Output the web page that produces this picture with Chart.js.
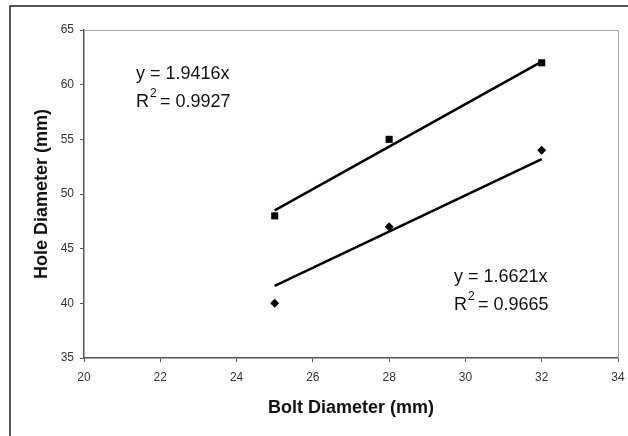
<!DOCTYPE html>
<html>
<head>
<meta charset="utf-8">
<script src="https://cdn.jsdelivr.net/npm/chart.js@4.4.0/dist/chart.umd.min.js"></script>
<style>
  html, body { margin: 0; padding: 0; background: #fff; }
  #wrap { width: 628px; height: 436px; }
</style>
</head>
<body>
<div id="wrap"><canvas id="holeChart" width="628" height="436"></canvas></div>
<script>
// Measured values
const boltDiameter = [25, 28, 32];
const holeUpper = [48, 55, 62];   // squares
const holeLower = [40, 47, 54];   // diamonds

// Trendline end points (as drawn)
const trendX = [25, 32];
const trendUpper = [48.5, 62.1];
const trendLower = [41.6, 53.2];

// Axis ranges
const xRange = [20, 34, 2];
const yRange = [35, 65, 5];

// Equation labels
const upperEq = { eq: 'y = 1.9416x', r2: '0.9927' };
const lowerEq = { eq: 'y = 1.6621x', r2: '0.9665' };

const pts = (xs, ys) => xs.map((x, i) => ({ x: x, y: ys[i] }));

const FONT = '"Liberation Sans", Arial, sans-serif';

// Frame, plot border and regression text
const decorations = {
    id: 'decorations',
    beforeDraw(chart) {
        const c = chart.ctx;
        c.save();
        c.fillStyle = '#fff';
        c.fillRect(0, 0, chart.width, chart.height);
        // outer frame (left + top only visible)
        c.strokeStyle = '#222';
        c.lineWidth = 1.5;
        c.beginPath();
        c.moveTo(10, chart.height);
        c.lineTo(10, 6);
        c.lineTo(chart.width, 6);
        c.stroke();
        c.restore();
    },
    afterDraw(chart) {
        const c = chart.ctx;
        const a = chart.chartArea;
        c.save();
        c.strokeStyle = '#aaa';
        c.lineWidth = 1;
        c.beginPath();
        c.moveTo(a.left, a.top + 0.5);
        c.lineTo(a.right + 0.5, a.top + 0.5);
        c.lineTo(a.right + 0.5, a.bottom);
        c.stroke();

        function eqText(obj, x, y) {
            c.fillStyle = '#111';
            c.textBaseline = 'alphabetic';
            c.textAlign = 'left';
            c.font = '18px ' + FONT;
            c.fillText(obj.eq, x, y);
            const y2 = y + 28;
            c.fillText('R', x, y2);
            const rw = c.measureText('R').width;
            c.font = '12px ' + FONT;
            c.fillText('2', x + rw + 1, y2 - 10);
            c.font = '18px ' + FONT;
            c.fillText(' = ' + obj.r2, x + rw + 6, y2);
        }
        eqText(upperEq, 136, 79);
        eqText(lowerEq, 454, 282);
        c.restore();
    }
};

const ctx = document.getElementById('holeChart').getContext('2d');
const chart = new Chart(ctx, {
    type: 'scatter',
    data: {
        datasets: [
            {
                type: 'line',
                data: pts(trendX, trendUpper),
                borderColor: '#000',
                borderWidth: 2.5,
                pointRadius: 0,
                fill: false
            },
            {
                type: 'line',
                data: pts(trendX, trendLower),
                borderColor: '#000',
                borderWidth: 2.5,
                pointRadius: 0,
                fill: false
            },
            {
                data: pts(boltDiameter, holeUpper),
                pointStyle: 'rect',
                pointRadius: 5,
                backgroundColor: '#000',
                borderColor: '#000',
                borderWidth: 0
            },
            {
                data: pts(boltDiameter, holeLower),
                pointStyle: 'rectRot',
                pointRadius: 4.5,
                backgroundColor: '#000',
                borderColor: '#000',
                borderWidth: 0
            }
        ]
    },
    options: {
        responsive: false,
        animation: false,
        layout: { padding: { top: 30, right: 10, left: 0, bottom: 0 } },
        plugins: {
            legend: { display: false },
            tooltip: { enabled: false }
        },
        scales: {
            x: {
                type: 'linear',
                min: xRange[0],
                max: xRange[1],
                afterFit(scale) {
                    scale.height = 78;
                    scale.paddingLeft = 0;
                    scale.paddingRight = 0;
                },
                ticks: {
                    stepSize: xRange[2],
                    color: '#333',
                    padding: 8,
                    font: { family: FONT, size: 12 }
                },
                grid: { drawOnChartArea: false, tickLength: 4, color: '#555' },
                border: { color: '#555', width: 1.5 },
                title: {
                    display: true,
                    text: 'Bolt Diameter (mm)',
                    color: '#111',
                    font: { family: FONT, size: 18, weight: 'bold' },
                    padding: { top: 0, bottom: 17 }
                }
            },
            y: {
                min: yRange[0],
                max: yRange[1],
                afterFit(scale) {
                    scale.width = 84;
                    scale.paddingTop = 0;
                    scale.paddingBottom = 0;
                },
                ticks: {
                    stepSize: yRange[2],
                    color: '#333',
                    padding: 6,
                    font: { family: FONT, size: 12 }
                },
                grid: { drawOnChartArea: false, tickLength: 4, color: '#555' },
                border: { color: '#555', width: 1.5 },
                title: {
                    display: true,
                    text: 'Hole Diameter (mm)',
                    color: '#111',
                    font: { family: FONT, size: 18, weight: 'bold' },
                    padding: { top: 31, bottom: 0 }
                }
            }
        }
    },
    plugins: [decorations]
});
</script>
</body>
</html>
